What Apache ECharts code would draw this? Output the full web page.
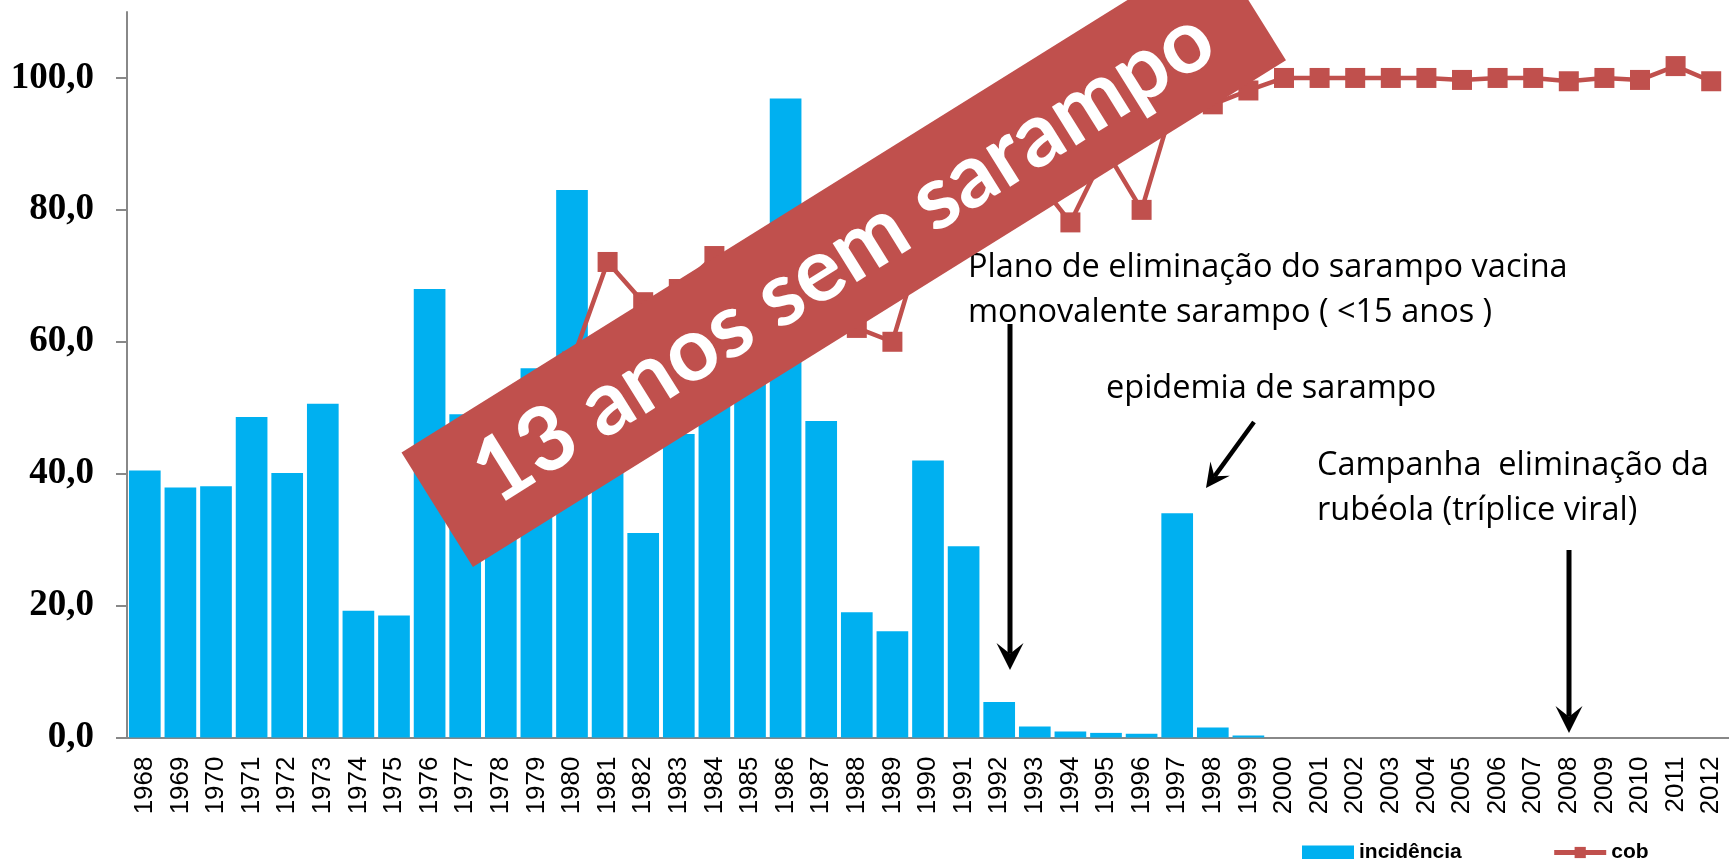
<!DOCTYPE html>
<html>
<head>
<meta charset="utf-8">
<title>Sarampo - incidência e cobertura</title>
<script src="https://cdn.jsdelivr.net/npm/echarts@6/dist/echarts.min.js"></script>
<style>
  html, body { margin: 0; padding: 0; background: #fff; }
  #chart { width: 1729px; height: 859px; }
</style>
</head>
<body>
<div id="chart"></div>
<script>
// anos 1968..2012
const years = []
for (let y = 1968; y <= 2012; y++) years.push(String(y))

// incidência (por 100 mil hab.)
const incidencia = [
  40.5, 37.9, 38.1, 48.6, 40.1, 50.6, 19.2, 18.5, 68.0, 49.0,
  41.0, 56.0, 83.0, 48.0, 31.0, 46.0, 52.0, 60.0, 96.9, 48.0,
  19.0, 16.1, 42.0, 29.0, 5.4, 1.65, 0.9, 0.7, 0.55, 34.0,
  1.5, 0.3, 0, 0, 0, 0, 0, 0, 0, 0,
  0, 0, 0, 0, 0
]

// cobertura vacinal (%)
const cob = [
  null, null, null, null, null, null, null, null, null, null,
  null, null, 57.0, 72.1, 66.0, 68.0, 73.0, 67.0, 66.0, 64.0,
  62.1, 60.0, 78.0, 85.0, 91.0, 85.0, 78.1, 89.0, 80.0, 98.0,
  96.0, 98.1, 100.0, 100.0, 100.0, 100.0, 100.0, 99.7, 100.0, 100.0,
  99.5, 100.0, 99.7, 101.8, 99.5
]

const yTicks = [0, 20, 40, 60, 80, 100]

const RED = '#C0504D'
const BLUE = '#00B0F0'

// seta: linha + ponta farpada
function arrow (x1, y1, x2, y2, size, width) {
  const len = Math.hypot(x2 - x1, y2 - y1)
  const ux = (x2 - x1) / len
  const uy = (y2 - y1) / len
  const px = -uy
  const py = ux
  const bx = x2 - ux * size
  const by = y2 - uy * size
  const nx = x2 - ux * size * 0.6
  const ny = y2 - uy * size * 0.6
  return [
    {
      type: 'line',
      z: 50,
      shape: { x1, y1, x2: nx, y2: ny },
      style: { stroke: '#000', lineWidth: width }
    },
    {
      type: 'polygon',
      z: 50,
      shape: {
        points: [
          [x2, y2],
          [bx + px * size * 0.5, by + py * size * 0.5],
          [nx, ny],
          [bx - px * size * 0.5, by - py * size * 0.5]
        ]
      },
      style: { fill: '#000' }
    }
  ]
}

function note (text, x, y) {
  return {
    type: 'text',
    z: 50,
    x,
    y,
    style: {
      text,
      fill: '#000',
      fontFamily: 'Open Sans',
      fontSize: 32.5,
      lineHeight: 45,
      verticalAlign: 'top'
    }
  }
}

const chart = echarts.init(document.getElementById('chart'))

const option = {
  animation: false,
  grid: { left: 127, right: 0, top: 12, bottom: 121.5 },
  legend: {
    left: 1302,
    top: 842,
    padding: 0,
    itemWidth: 52,
    itemHeight: 14,
    itemGap: 90,
    textStyle: {
      fontFamily: 'Liberation Sans',
      fontWeight: 'bold',
      fontSize: 21,
      color: '#000'
    },
    data: [
      { name: 'incidência', icon: 'rect' },
      { name: 'cob', lineStyle: { width: 5 } }
    ]
  },
  xAxis: {
    type: 'category',
    data: years,
    axisLine: { lineStyle: { color: '#888', width: 2 } },
    axisTick: { length: 7, lineStyle: { color: '#888', width: 2 } },
    axisLabel: {
      interval: 0,
      rotate: 90,
      margin: 19,
      fontFamily: 'Liberation Sans',
      fontSize: 26,
      color: '#000'
    }
  },
  yAxis: {
    type: 'value',
    min: 0,
    max: 110,
    splitLine: { show: false },
    axisLine: { show: true, lineStyle: { color: '#888', width: 2 } },
    axisTick: {
      show: true,
      length: 11,
      customValues: yTicks,
      lineStyle: { color: '#888', width: 2 }
    },
    axisLabel: {
      customValues: yTicks,
      margin: 33,
      fontFamily: 'Liberation Serif',
      fontWeight: 'bold',
      fontSize: 37,
      color: '#000',
      formatter: v => v.toFixed(1).replace('.', ',')
    }
  },
  series: [
    {
      name: 'incidência',
      type: 'bar',
      barCategoryGap: '11%',
      itemStyle: { color: BLUE },
      data: incidencia
    },
    {
      name: 'cob',
      type: 'line',
      symbol: 'rect',
      symbolSize: 20,
      lineStyle: { color: RED, width: 4.5 },
      itemStyle: { color: RED },
      data: cob
    }
  ],
  graphic: [
    // faixa "13 anos sem sarampo"
    {
      type: 'group',
      z: 100,
      x: 843.75,
      y: 256.35,
      rotation: 31.93 * Math.PI / 180,
      children: [
        {
          type: 'rect',
          z: 100,
          shape: { x: -479, y: -67.5, width: 958, height: 135 },
          style: { fill: RED }
        },
        {
          type: 'text',
          z: 101,
          x: 0,
          y: 0,
          style: {
            text: '13 anos sem sarampo',
            fill: '#fff',
            fontFamily: 'Lato',
            fontWeight: 'bold',
            fontSize: 89,
            align: 'center',
            verticalAlign: 'middle'
          }
        }
      ]
    },
    note('Plano de eliminação do sarampo vacina\nmonovalente sarampo ( <15 anos )', 968, 245),
    note('epidemia de sarampo', 1106, 366),
    note('Campanha  eliminação da\nrubéola (tríplice viral)', 1317, 443),
    ...arrow(1010, 324, 1010, 670, 27, 5),
    ...arrow(1569, 550, 1569, 733, 27, 5),
    ...arrow(1254, 422, 1206, 488, 24, 4.5)
  ]
}

chart.setOption(option)
</script>
</body>
</html>
